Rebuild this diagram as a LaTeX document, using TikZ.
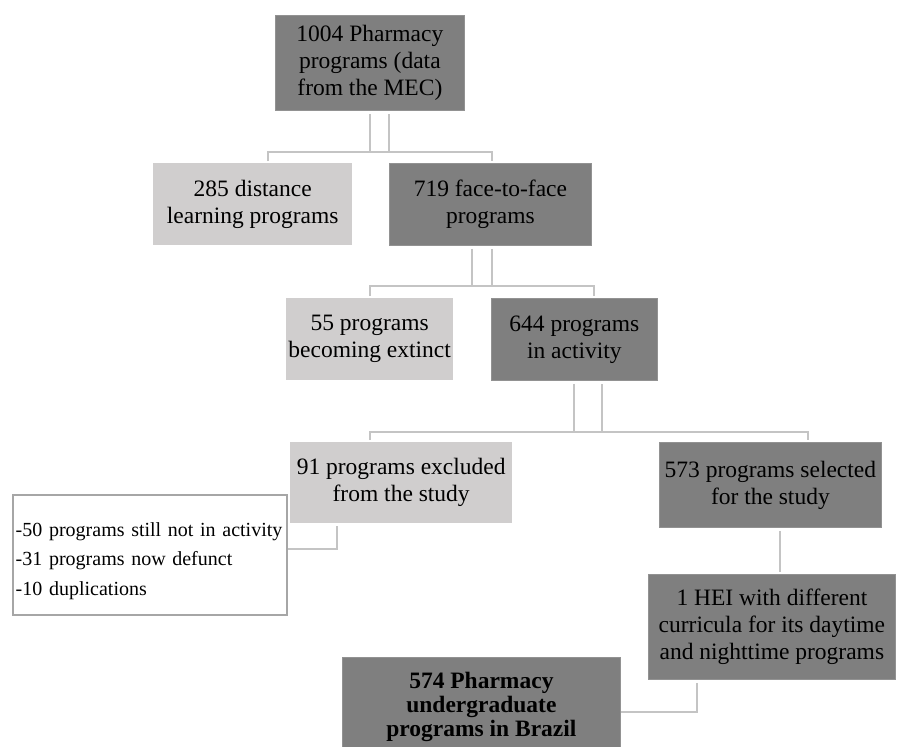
\documentclass[tikz,border=0pt]{standalone}
\usepackage{fontspec}
\setmainfont{Liberation Serif}
\definecolor{darkbox}{HTML}{7F7F7F}
\definecolor{lightbox}{HTML}{D0CECE}
\definecolor{wire}{HTML}{C4C4C4}
\definecolor{frame}{HTML}{A6A6A6}
\begin{document}
\begin{tikzpicture}[x=1pt,y=-1pt,
  every node/.style={inner sep=0pt, anchor=north west, align=center,
    font=\fontsize{23.5}{27}\selectfont},
  dark/.style={fill=darkbox, draw=darkbox!85!white, line width=0.8pt},
  light/.style={fill=lightbox},
  link/.style={draw=wire, line width=1.6pt},
]
\clip (0,0) rectangle (898,747);
\fill[white] (0,0) rectangle (898,747);

% boxes
\node[dark, minimum width=189pt, minimum height=95pt] (top) at (275,15)
  {1004 Pharmacy\\programs (data\\from the MEC)};
\node[light, minimum width=199pt, minimum height=82pt] (dist) at (153,163)
  {285 distance\\learning programs};
\node[dark, minimum width=202pt, minimum height=82pt] (face) at (389,163)
  {719 face-to-face\\programs};
\node[light, minimum width=167pt, minimum height=82pt] (extinct) at (286,298)
  {55 programs\\becoming extinct};
\node[dark, minimum width=166pt, minimum height=82pt] (activity) at (491,298)
  {644 programs\\in activity};
\node[light, minimum width=222pt, minimum height=81pt] (excluded) at (290,442)
  {91 programs excluded\\from the study};
\node[dark, minimum width=222pt, minimum height=85pt] (selected) at (659,442)
  {573 programs selected\\for the study};
\node[draw=frame, line width=1.5pt, fill=white, inner xsep=3pt,
      text width=268pt, minimum height=120pt, align=left,
      font=\fontsize{20}{29.5}\selectfont] (reasons) at (12,494)
  {\rule{0pt}{26pt}\hbox{-50 programs still not in activity}\\-31 programs now defunct\\-10 duplications};
\node[dark, minimum width=247pt, minimum height=105pt] (hei) at (648,574)
  {1 HEI with different\\curricula for its daytime\\and nighttime programs};
\node[dark, minimum width=278pt, minimum height=100pt,
      font=\fontsize{23.5}{24}\selectfont\bfseries] (final) at (342,657)
  {574 Pharmacy\\undergraduate\\programs in Brazil};

% junction points
\coordinate (u1a) at (370,152); \coordinate (u1b) at (389,152);
\coordinate (h1a) at (268,152); \coordinate (h1b) at (492,152);
\coordinate (u2a) at (472,286); \coordinate (u2b) at (492,286);
\coordinate (h2a) at (370,286); \coordinate (h2b) at (594,286);
\coordinate (u3a) at (574,432); \coordinate (u3b) at (602,432);
\coordinate (h3a) at (370,432); \coordinate (h3b) at (808,432);
\coordinate (k1) at (337,549);
\coordinate (s1) at (780,550);
\coordinate (f1) at (697,712);

% connectors
\draw[link, shorten <=3pt, shorten >=3pt]
  (top.south -| u1a) -- (u1a) -- (u1b) -- (top.south -| u1b);
\draw[link, shorten <=2pt, shorten >=2pt]
  (dist.north -| h1a) -- (h1a) -- (h1b) -- (face.north -| h1b);
\draw[link, shorten <=3pt, shorten >=3pt]
  (face.south -| u2a) -- (u2a) -- (u2b) -- (face.south -| u2b);
\draw[link, shorten <=2pt, shorten >=2pt]
  (extinct.north -| h2a) -- (h2a) -- (h2b) -- (activity.north -| h2b);
\draw[link, shorten <=3pt, shorten >=3pt]
  (activity.south -| u3a) -- (u3a) -- (u3b) -- (activity.south -| u3b);
\draw[link, shorten <=2pt, shorten >=2pt]
  (excluded.north -| h3a) -- (h3a) -- (h3b) -- (selected.north -| h3b);
\draw[link, shorten <=3pt]
  (excluded.south -| k1) -- (k1) -- (reasons.east |- k1);
\draw[link, shorten <=3pt, shorten >=2pt]
  (selected.south -| s1) -- (hei.north -| s1);
\draw[link, shorten <=3pt]
  (hei.south -| f1) -- (f1) -- (final.east |- f1);
\end{tikzpicture}
\end{document}
